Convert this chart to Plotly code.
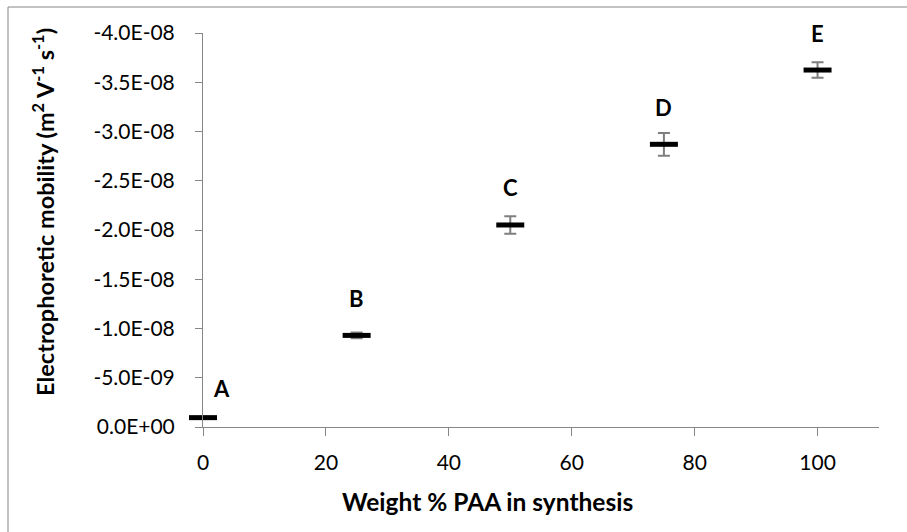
import plotly.graph_objects as go

# ---- data ----
labels = ["A", "B", "C", "D", "E"]
weight_paa = [0, 25, 50, 75, 100]
mobility = [-0.95e-9, -9.3e-9, -2.051e-8, -2.870e-8, -3.624e-8]
mobility_err = [0.1e-9, 0.3e-9, 0.89e-9, 1.15e-9, 0.79e-9]

y_tickvals = [0, -5e-9, -1e-8, -1.5e-8, -2e-8, -2.5e-8, -3e-8, -3.5e-8, -4e-8]
y_ticktext = ["0.0E+00", "-5.0E-09", "-1.0E-08", "-1.5E-08", "-2.0E-08",
              "-2.5E-08", "-3.0E-08", "-3.5E-08", "-4.0E-08"]
x_tickvals = [0, 20, 40, 60, 80, 100]

FONT = "Lato, 'Open Sans', sans-serif"
AXIS_GRAY = "#868686"
ERR_GRAY = "#7f7f7f"

fig = go.Figure()
fig.add_trace(go.Scatter(
    x=weight_paa, y=mobility, mode="markers",
    marker=dict(symbol="line-ew", size=20, color="black",
                line=dict(color="black", width=5)),
    error_y=dict(type="data", array=mobility_err, visible=True,
                 color=ERR_GRAY, thickness=2, width=6),
    cliponaxis=False, showlegend=False,
))

# point labels
for i, (lx, ly, lt) in enumerate(zip(weight_paa, mobility, labels)):
    fig.add_annotation(
        x=lx, y=ly, text=f"<b>{lt}</b>", showarrow=False,
        xref="x", yref="y", xanchor="center", yanchor="middle",
        xshift=18 if i == 0 else 0, yshift=29 if i == 0 else 37,
        font=dict(family=FONT, size=22, color="black"),
    )

# axis titles
fig.add_annotation(
    x=(43 - 203) / 676, y=(427 - 212) / 394, xref="paper", yref="paper",
    text="<b>Electrophoretic mobility (m<sup>2</sup> V<sup>-1</sup> s<sup>-1</sup>)</b>",
    textangle=-90, showarrow=False, xanchor="center", yanchor="middle",
    font=dict(family=FONT, size=23.5, color="black"),
)
fig.add_annotation(
    x=(487 - 203) / 676, y=(427 - 501) / 394, xref="paper", yref="paper",
    text="<b>Weight % PAA in synthesis</b>", showarrow=False,
    xanchor="center", yanchor="middle",
    font=dict(family=FONT, size=24.5, color="black"),
)

# outer chart border
fig.add_shape(type="rect", xref="paper", yref="paper",
              x0=(8 - 203) / 676, x1=1.2, y0=-0.5, y1=(427 - 7) / 394,
              line=dict(color=AXIS_GRAY, width=1), fillcolor="rgba(0,0,0,0)",
              layer="below")

fig.update_xaxes(
    range=[0, 110], tickvals=x_tickvals, showgrid=False, zeroline=False,
    showline=True, linecolor=AXIS_GRAY, linewidth=1,
    ticks="outside", ticklen=8, tickcolor=AXIS_GRAY, tickwidth=1,
    ticklabelstandoff=9,
    tickfont=dict(family=FONT, size=21, color="black"),
)
fig.update_yaxes(
    range=[0, -4e-8], tickvals=y_tickvals, ticktext=y_ticktext,
    showgrid=False, zeroline=False,
    showline=True, linecolor=AXIS_GRAY, linewidth=1,
    ticks="outside", ticklen=7, tickcolor=AXIS_GRAY, tickwidth=1,
    ticklabelstandoff=16,
    tickfont=dict(family=FONT, size=21, color="black"),
)
fig.update_layout(
    width=907, height=532,
    margin=dict(l=203, r=28, t=33, b=105, pad=0),
    paper_bgcolor="white", plot_bgcolor="white",
    font=dict(family=FONT),
)
fig.write_html("out.html")
